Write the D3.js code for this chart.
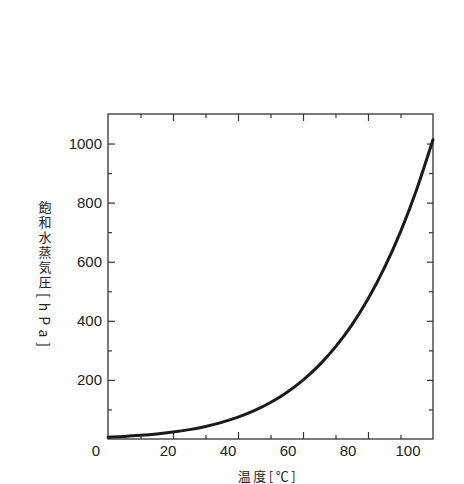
<!DOCTYPE html>
<html>
<head>
<meta charset="utf-8">
<script src="https://cdn.jsdelivr.net/npm/d3@7"></script>
<style>
  body { margin: 0; background: #fff; }
  svg { display: block; }
  text { font-family: "Liberation Sans", Arial, sans-serif; fill: #222; }
  .cjk { font-family: "Noto Sans CJK JP", sans-serif; }
</style>
</head>
<body>
<svg id="chart" width="464" height="484"></svg>
<script>
// saturated vapour pressure
const temps = [0, 5, 10, 15, 20, 25, 30, 35, 40, 45, 50, 55, 60, 65, 70, 75, 80, 85, 90, 95, 100];
const pressures = [6.1, 8.7, 12.3, 17.0, 23.4, 31.7, 42.4, 56.2, 73.8, 95.9, 123.4, 157.5, 199.3, 250.1, 311.8, 385.6, 473.6, 578.1, 701.1, 845.3, 1013];

const xMajor = [20, 40, 60, 80];
const xMinor = [10, 30, 50, 70, 90];
const yMajor = [200, 400, 600, 800, 1000];
const yMinor = [100, 300, 500, 700, 900];
const xTickLabels = [0, 20, 40, 60, 80, 100];
const yTickLabels = [200, 400, 600, 800, 1000];

const marginLeft = 108, marginTop = 114, w = 325, h = 325;
const axisColor = "#333";

const svg = d3.select("#chart");
const g = svg.append("g").attr("transform", "translate(" + marginLeft + "," + marginTop + ")");

const x = d3.scaleLinear().domain([0, 100]).range([0, w]);
const y = d3.scaleLinear().domain([0, 1100]).range([h, 0]);
// the printed tick labels sit on a slightly tighter spacing than the ticks
const xLab = d3.scaleLinear().domain([0, 110]).range([0, w + 5]);

function ticks(axisFn, scale, values, len, transform) {
  const a = g.append("g")
    .attr("transform", transform || null)
    .call(axisFn(scale).tickValues(values).tickSizeInner(-len).tickSizeOuter(0).tickFormat(""));
  a.select(".domain").remove();
  a.selectAll("line").attr("stroke", axisColor).attr("stroke-width", 1.2);
}

ticks(d3.axisBottom, x, xMajor, 7, "translate(0," + h + ")");
ticks(d3.axisBottom, x, xMinor, 4, "translate(0," + h + ")");
ticks(d3.axisTop, x, xMajor, 7);
ticks(d3.axisTop, x, xMinor, 4);
ticks(d3.axisLeft, y, yMajor, 7);
ticks(d3.axisLeft, y, yMinor, 4);
ticks(d3.axisRight, y, yMajor, 6, "translate(" + w + ",0)");
ticks(d3.axisRight, y, yMinor, 4, "translate(" + w + ",0)");

g.append("rect")
  .attr("width", w).attr("height", h)
  .attr("fill", "none")
  .attr("stroke", axisColor)
  .attr("stroke-width", 1.3);

// curve
const line = d3.line()
  .x((d, i) => x(temps[i]))
  .y(d => y(d))
  .curve(d3.curveNatural);

g.append("path")
  .datum(pressures)
  .attr("d", line)
  .attr("fill", "none")
  .attr("stroke", "#1a1a1a")
  .attr("stroke-width", 3)
  .attr("stroke-linecap", "round");

// tick labels
g.selectAll(".xl")
  .data(xTickLabels)
  .enter().append("text")
  .attr("x", d => d === 0 ? xLab(d) - 12 : xLab(d))
  .attr("y", h + 17)
  .attr("text-anchor", "middle")
  .style("font-size", "15px")
  .text(d => d);

g.selectAll(".yl")
  .data(yTickLabels)
  .enter().append("text")
  .attr("x", -6)
  .attr("y", d => y(d) + 5)
  .attr("text-anchor", "end")
  .style("font-size", "15px")
  .text(d => d);

// axis titles
svg.append("text")
  .attr("class", "cjk")
  .attr("x", 268)
  .attr("y", 481)
  .attr("text-anchor", "middle")
  .style("font-size", "13px")
  .style("letter-spacing", "2.5px")
  .text("温度[℃]");

// vertical title, latin part turned sideways like the print
const yt = svg.append("text")
  .attr("class", "cjk")
  .attr("x", 45)
  .attr("y", 201)
  .style("writing-mode", "vertical-rl")
  .style("text-orientation", "mixed")
  .style("font-size", "13px");
yt.append("tspan").style("letter-spacing", "2px").text("飽和水蒸気圧");
yt.append("tspan").attr("dy", 2).style("letter-spacing", "5px").style("font-size", "14px").text("[hPa]");
</script>
</body>
</html>
